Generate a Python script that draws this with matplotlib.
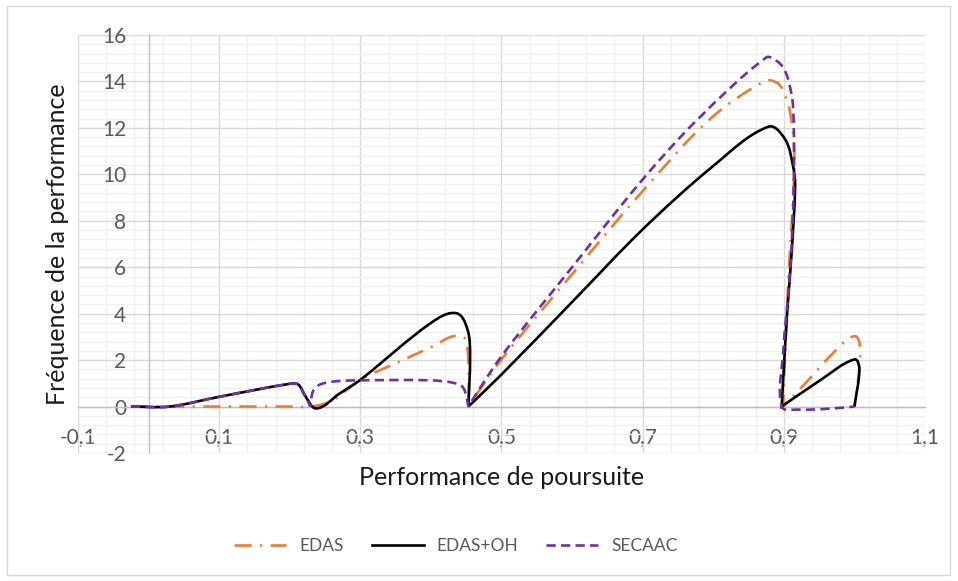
import numpy as np
import matplotlib
matplotlib.use("Agg")
import matplotlib.pyplot as plt
from matplotlib.path import Path
from matplotlib.patches import PathPatch, Rectangle
from matplotlib.lines import Line2D
from matplotlib.ticker import FixedLocator, FuncFormatter

plt.rcParams['font.family'] = ['Lato', 'DejaVu Sans']

# points (x = performance de poursuite, y = fréquence)
edas_x = [-0.025, 0.03, 0.2, 0.23, 0.26, 0.3, 0.36, 0.403, 0.432, 0.45, 0.453,
          0.5, 0.6, 0.7, 0.795, 0.873, 0.89, 0.899, 0.909, 0.915, 0.906, 0.899,
          0.932, 0.97, 1.0, 1.008, 1.004, 1.0]
edas_y = [0, 0, 0, 0, 0.25, 1.15, 2.0, 2.6, 3.03, 2.85, 0,
          2.03, 5.7, 9.28, 12.37, 14.02, 13.95, 13.6, 12.66, 10.6, 5.2, 0,
          1.05, 2.31, 3.03, 2.5, 0.8, 0]

oh_x = [-0.025, 0.03, 0.1, 0.2, 0.212, 0.222, 0.238, 0.27, 0.3, 0.4, 0.436, 0.452,
        0.4555, 0.453, 0.5, 0.6, 0.7, 0.8, 0.878, 0.902, 0.913, 0.916, 0.911,
        0.904, 0.897, 0.95, 1.0, 1.007, 1.0]
oh_y = [0, 0, 0.42, 0.98, 0.95, 0.45, -0.08, 0.55, 1.15, 3.6, 4.02, 3.3,
        2.17, 0, 1.38, 4.5, 7.63, 10.36, 12.05, 11.5, 10.36, 9.5, 6.6,
        3.75, 0, 1.1, 2.03, 1.6, 0]

secaac_x = [-0.025, 0.03, 0.1, 0.2, 0.212, 0.222, 0.229, 0.233, 0.243, 0.266, 0.3,
            0.399, 0.432, 0.446, 0.453, 0.5, 0.6, 0.7, 0.778, 0.875, 0.89, 0.899,
            0.906, 0.913, 0.914, 0.909, 0.899, 0.897, 0.92, 0.96, 1.0]
secaac_y = [0, 0, 0.42, 0.98, 0.95, 0.45, 0, 0.66, 0.95, 1.09, 1.13,
            1.13, 1.02, 0.8, 0, 2.17, 6.0, 9.78, 12.37, 15.03, 14.88, 14.6,
            14.1, 12.94, 9.5, 5.9, 2.3, 0, -0.13, -0.1, 0]

x_ticks = [-0.1, 0.1, 0.3, 0.5, 0.7, 0.9, 1.1]
y_ticks = [-2, 0, 2, 4, 6, 8, 10, 12, 14, 16]


def smooth_path(ax, xs, ys, k=0.33):
    # excel-like smoothed line: cubic bezier through the points (built in screen space),
    # handle length follows each segment, sharp turns are kept as corners
    pts = np.column_stack([xs, ys]).astype(float)
    scr = ax.transData.transform(pts)
    n = len(scr)
    d = np.zeros_like(scr)
    for i in range(1, n - 1):
        a = scr[i] - scr[i - 1]
        b = scr[i + 1] - scr[i]
        c = np.dot(a, b) / (np.linalg.norm(a) * np.linalg.norm(b) + 1e-9)
        if c > -0.35:
            t = scr[i + 1] - scr[i - 1]
            d[i] = t / (np.linalg.norm(t) + 1e-9)
    verts = [scr[0]]
    for i in range(n - 1):
        seg = scr[i + 1] - scr[i]
        L = np.linalg.norm(seg)
        u = seg / (L + 1e-9)
        d0 = d[i] if i > 0 and d[i].any() else u
        d1 = d[i + 1] if i + 1 < n - 1 and d[i + 1].any() else u
        if i > 0 and not d[i].any():
            d0 = np.zeros(2)
        if i + 1 < n - 1 and not d[i + 1].any():
            d1 = np.zeros(2)
        verts += [scr[i] + d0 * k * L, scr[i + 1] - d1 * k * L, scr[i + 1]]
    codes = [Path.MOVETO] + [Path.CURVE4] * (3 * (n - 1))
    verts = ax.transData.inverted().transform(np.array(verts))
    return Path(verts, codes)


fig = plt.figure(figsize=(9.58, 5.81), dpi=100)
ax = fig.add_axes([78 / 958, 1 - 453 / 581, 847 / 958, 418 / 581])

ax.set_xlim(-0.1, 1.1)
ax.set_ylim(-2, 16)

ax.xaxis.set_major_locator(FixedLocator(x_ticks))
ax.yaxis.set_major_locator(FixedLocator(y_ticks))
ax.xaxis.set_minor_locator(FixedLocator(np.arange(-0.1, 1.1001, 0.04)))
ax.yaxis.set_minor_locator(FixedLocator(np.arange(-2, 16.001, 0.4)))
ax.xaxis.set_major_formatter(FuncFormatter(lambda v, p: f"{v:.1f}".replace('.', ',')))
ax.yaxis.set_major_formatter(FuncFormatter(lambda v, p: f"{v:.0f}"))

ax.grid(which='major', color='#d9d9d9', lw=1.0)
ax.grid(which='minor', color='#f0f0f0', lw=1.0)
ax.set_axisbelow(True)

for s in ['top', 'right']:
    ax.spines[s].set_visible(False)
ax.spines['left'].set_position(('data', 0))
ax.spines['bottom'].set_position(('data', 0))
for s in ['left', 'bottom']:
    ax.spines[s].set_color('#bfbfbf')
    ax.spines[s].set_linewidth(1.0)

ax.tick_params(which='both', length=0)
ax.tick_params(axis='x', labelsize=15, labelcolor='#595959', pad=15)
ax.tick_params(axis='y', labelsize=15, labelcolor='#595959', pad=16)

series = [
    (edas_x, edas_y, '#ED7D31', (0, (6.5, 3.2, 0.8, 3.2)), 'EDAS'),
    (oh_x, oh_y, '#000000', '-', 'EDAS+OH'),
    (secaac_x, secaac_y, '#7030A0', (0, (3.5, 2.0)), 'SECAAC'),
]
handles = []
for k, (xs, ys, col, ls, name) in enumerate(series):
    patch = PathPatch(smooth_path(ax, xs, ys), fill=False, edgecolor=col, lw=1.9,
                      linestyle=ls, capstyle='butt', zorder=3 + k)
    ax.add_patch(patch)
    handles.append(Line2D([], [], color=col, lw=1.9, linestyle=ls, label=name))

ax.set_xlabel('Performance de poursuite', fontsize=18, color='#1a1a1a')
ax.set_ylabel('Fréquence de la performance', fontsize=18, color='#1a1a1a')
ax.xaxis.set_label_coords(0.5, -0.03)
ax.yaxis.set_label_coords(-0.011, 0.5)

fig.legend(handles=handles, loc='center', bbox_to_anchor=(456 / 958, 1 - 546 / 581), ncol=3,
           frameon=False, fontsize=12.5, labelcolor='#595959', handlelength=3.0,
           columnspacing=1.6, handletextpad=0.75)

fig.patches.append(Rectangle((7 / 958, 6 / 581), 943 / 958, 569 / 581, transform=fig.transFigure,
                             fill=False, edgecolor='#d9d9d9', lw=1.0))

fig.savefig('out.png', dpi=100)
